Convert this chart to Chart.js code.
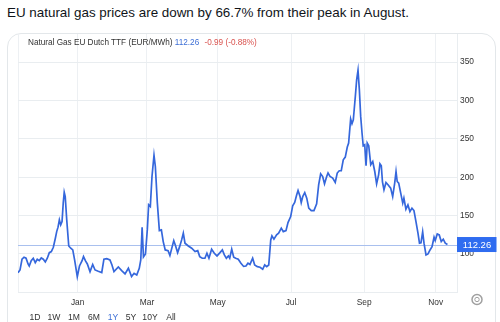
<!DOCTYPE html>
<html>
<head>
<meta charset="utf-8">
<script src="https://cdn.jsdelivr.net/npm/chart.js@4.4.1/dist/chart.umd.min.js"></script>
<style>
  html, body { margin: 0; padding: 0; background: #fff; }
  body { width: 500px; height: 322px; position: relative; overflow: hidden; font-family: "Liberation Sans", Arial, sans-serif; }
  #title { position: absolute; left: 7px; top: 5px; font-size: 13.4px; color: #0f1419; white-space: nowrap; }
  #card { position: absolute; left: 7px; top: 33px; width: 489px; height: 330px; border: 1px solid #e3e7ea; border-radius: 14px; box-sizing: border-box; }
  #head { position: absolute; left: 28px; top: 38px; font-size: 8.2px; color: #333; white-space: nowrap; z-index: 2; }
  #head .up { color: #3d6fd6; }
  #head .dn { color: #d9534f; margin-left: 3px; }
  #btns { position: absolute; left: 0; top: 312px; font-size: 8.6px; color: #333; z-index: 2; }
  #btns span { position: absolute; transform: translateX(-50%); white-space: nowrap; }
  #btns .on { color: #3d6fd6; }
  #wrap { position: absolute; left: 0; top: 0; width: 500px; height: 322px; }
</style>
</head>
<body>
<div id="title">EU natural gas prices are down by 66.7% from their peak in August.</div>
<div id="card"></div>
<div id="wrap"><canvas id="c" width="500" height="322"></canvas></div>
<div id="head">Natural Gas EU Dutch TTF (EUR/MWh) <span class="up">112.26</span> <span class="dn">-0.99 (-0.88%)</span></div>
<div id="btns">
  <span style="left:35px">1D</span><span style="left:54px">1W</span><span style="left:74px">1M</span><span style="left:94px">6M</span><span class="on" style="left:113px">1Y</span><span style="left:131px">5Y</span><span style="left:150px">10Y</span><span style="left:171px">All</span>
</div>
<script>
// Trading-day index (Nov 2021 -> Nov 2022) and price, EUR/MWh
const tradingDay = [0,1.2,2.4,3.6,4.8,6.0,6.7,7.9,9.1,10.3,11.5,12.7,13.9,15.1,16.3,17.5,18.7,19.9,21.1,22.3,23.1,23.9,24.7,25.5,26.3,27.0,27.6,28.2,29.1,30.3,31.5,32.7,33.8,35.4,36.7,38.2,39.1,40.3,41.4,43.0,44.6,46.0,47.9,50.0,51.3,53.0,54.9,56.1,57.3,59.9,61.9,63.9,65.9,67.8,69.3,70.9,72.4,73.3,74.1,74.9,76.1,77.2,78.0,79.0,80.0,81.2,82.0,83.2,84.4,85.6,86.7,87.9,89.6,90.7,93.0,94.1,95.3,96.5,97.7,98.7,99.7,101.7,103.7,105.7,107.3,108.5,110.0,111.6,112.8,114.0,115.6,117.2,118.8,120.6,122.0,123.2,124.4,125.6,126.4,127.6,128.8,130.0,131.5,133.1,134.7,136.1,137.3,138.5,140.1,141.3,142.9,144.5,146.1,147.3,148.5,149.7,150.9,151.6,152.8,154.4,155.6,157.2,158.4,160.0,161.2,162.8,164.0,165.2,166.4,167.2,168.4,169.1,170.0,171.2,172.4,173.6,175.1,176.7,178.3,179.5,180.7,181.9,183.0,184.3,185.1,186.3,187.9,189.4,190.6,191.8,193.0,194.2,195.4,196.6,197.4,198.6,199.4,200.2,201.4,202.2,203.0,203.8,204.6,205.4,206.1,207.0,207.8,208.5,209.4,210.6,211.8,213.0,214.1,215.3,216.1,216.9,217.6,218.5,219.7,220.9,222.5,223.7,224.9,225.7,226.4,227.3,228.5,229.7,230.4,231.6,232.8,234.0,235.2,236.4,237.6,238.8,239.7,240.6,241.6,242.4,243.6,244.8,246.0,247.2,248.4,249.1,250.3,251.5,252.7,253.9,255.1,256.4];
const price = [75.6,79.1,93.1,95.7,94.4,86.9,84.3,91.3,94.4,88.6,93.1,91.3,94.8,93.1,89.6,94.4,101.7,103.0,108.7,120.5,129.1,134.9,144.4,137.9,142.2,166.2,180.3,174.8,144.4,110.4,107.4,105.2,92.2,70.4,84.3,90.9,96.5,90.9,86.9,76.9,86.3,79.1,77.4,75.8,93.1,93.9,92.2,85.6,76.9,83.0,78.2,73.9,81.3,70.6,74.8,72.6,81.3,92.2,134.6,96.1,100.0,131.3,164.0,161.8,200.9,228.6,214.0,166.2,130.4,131.3,116.1,105.2,104.3,98.0,117.4,110.4,101.7,109.5,118.3,127.0,114.0,110.4,107.4,103.0,104.3,96.5,94.4,94.4,100.9,94.4,106.1,100.9,97.4,101.7,105.2,98.7,94.4,97.4,94.4,106.1,95.7,94.4,93.1,87.9,83.7,84.3,87.9,86.3,94.4,85.6,83.4,82.6,80.0,85.6,83.4,85.6,118.3,123.5,119.2,124.8,127.0,133.6,129.1,130.4,140.9,148.7,162.7,167.0,177.0,182.6,174.8,167.0,174.8,180.0,172.7,159.7,156.5,156.5,165.3,190.1,204.4,200.9,191.4,200.9,205.4,200.9,198.8,193.1,205.4,208.4,208.4,222.7,226.2,239.3,244.5,275.9,269.7,274.9,305.4,327.2,339.3,314.1,279.2,257.6,241.0,242.3,214.9,244.5,241.0,216.2,220.5,207.4,191.4,203.1,217.5,214.9,194.0,183.6,193.1,190.1,185.8,174.8,192.3,207.4,194.4,192.3,179.2,166.2,172.7,158.4,164.0,155.2,159.7,156.5,142.2,127.0,114.0,114.4,128.7,114.0,98.7,100.0,105.2,109.5,121.8,117.4,126.1,124.8,116.1,119.2,114.0,112.26];
const monthTickPos = [0, 35.6, 77.0, 119.2, 163.0, 206.7, 249.4];
const monthLabels = ['', 'Jan', 'Mar', 'May', 'Jul', 'Sep', 'Nov'];
const priceTicks = [50, 100, 150, 200, 250, 300, 350];

const lastPrice = price[price.length - 1];
const points = tradingDay.map((d, i) => ({ x: d, y: price[i] }));

const overlay = {
  id: 'overlay',
  beforeDatasetsDraw(chart) {
    const { ctx, chartArea, scales } = chart;
    const y = Math.round(scales.y.getPixelForValue(lastPrice)) + 0.5;
    ctx.save();
    ctx.strokeStyle = '#a9c0ee';
    ctx.lineWidth = 1;
    ctx.beginPath();
    ctx.moveTo(chartArea.left, y);
    ctx.lineTo(chartArea.right, y);
    ctx.stroke();
    ctx.restore();
  },
  afterDraw(chart) {
    const { ctx, chartArea, scales } = chart;
    const y = scales.y.getPixelForValue(lastPrice);
    ctx.save();
    ctx.fillStyle = '#2f6cf0';
    ctx.fillRect(chartArea.right, y - 7.5, 39.5, 15);
    ctx.fillStyle = '#ffffff';
    ctx.font = '9.5px "Liberation Sans", Arial, sans-serif';
    ctx.textAlign = 'center';
    ctx.textBaseline = 'middle';
    ctx.fillText(lastPrice.toFixed(2), chartArea.right + 20, y + 0.5);
    // settings gear
    ctx.strokeStyle = '#a0a0a0';
    ctx.lineWidth = 1.5;
    ctx.beginPath(); ctx.arc(477, 299.5, 5, 0, Math.PI * 2); ctx.stroke();
    ctx.lineWidth = 1;
    ctx.beginPath(); ctx.arc(477, 299.5, 2.2, 0, Math.PI * 2); ctx.stroke();
    ctx.restore();
  }
};

new Chart(document.getElementById('c'), {
  type: 'line',
  data: {
    datasets: [{
      data: points,
      borderColor: '#3567dc',
      borderWidth: 1.7,
      pointRadius: 0,
      tension: 0,
      fill: false
    }]
  },
  options: {
    responsive: false,
    animation: false,
    layout: { padding: { left: 18, top: 34, right: 0, bottom: 0 } },
    plugins: { legend: { display: false }, tooltip: { enabled: false } },
    scales: {
      x: {
        type: 'linear',
        min: 0,
        max: 262.1,
        afterBuildTicks: s => { s.ticks = monthTickPos.map(v => ({ value: v })); },
        afterFit: s => { s.height = 29.7; },
        grid: { color: '#edf0f3', lineWidth: 1, drawTicks: false },
        border: { display: false },
        ticks: {
          padding: 5,
          maxRotation: 0,
          autoSkip: false,
          color: '#333',
          font: { size: 8.4, family: '"Liberation Sans", Arial, sans-serif' },
          callback: (v, i) => monthLabels[i]
        }
      },
      y: {
        position: 'right',
        min: 50,
        max: 386.6,
        afterBuildTicks: s => { s.ticks = priceTicks.map(v => ({ value: v })); },
        afterFit: s => { s.width = 43; },
        grid: { color: '#e9edf0', lineWidth: 1, drawTicks: false },
        border: { display: true, color: '#e9edf0' },
        ticks: {
          padding: 3,
          color: '#333',
          font: { size: 8.4, family: '"Liberation Sans", Arial, sans-serif' },
          callback: v => (v === 50 ? '' : String(v))
        }
      }
    }
  },
  plugins: [overlay]
});
</script>
</body>
</html>
